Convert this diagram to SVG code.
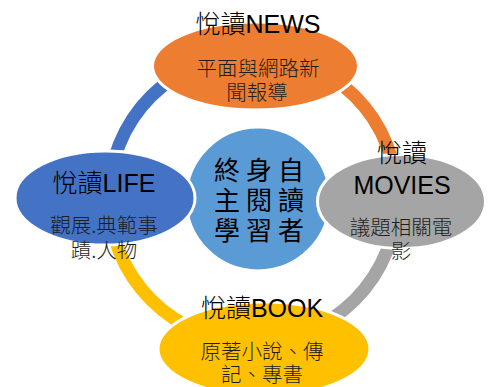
<svg xmlns="http://www.w3.org/2000/svg" width="490" height="387" viewBox="0 0 490 387">
<style>
.arc{fill:none;stroke-width:13}
.node{stroke:#fff;stroke-width:3}
.t{font-family:"Liberation Sans","Noto Sans CJK TC",sans-serif;font-size:25px;fill:#000;text-anchor:middle;font-weight:300}
.s{font-family:"Noto Sans CJK TC","Liberation Sans",sans-serif;font-size:20.5px;fill:#1e1e1e;text-anchor:middle;font-weight:300}
.c{font-family:"Noto Sans CJK TC",sans-serif;font-size:26px;fill:#000;text-anchor:middle;font-weight:400;letter-spacing:6px}
</style>
<rect width="490" height="387" fill="#fff"/>
<g id="connectors">
<path class="arc" stroke="#4472C4" d="M109,198 A144,144 0 0 1 253,54"/>
<path class="arc" stroke="#ED7D31" d="M253,54 A144,144 0 0 1 397,198"/>
<path class="arc" stroke="#A5A5A5" d="M397,198 A144,144 0 0 1 253,342"/>
<path class="arc" stroke="#FFC000" d="M253,342 A144,144 0 0 1 109,198"/>
</g>
<g id="center">
<circle class="node" cx="258" cy="199" r="72" fill="#5B9BD5"/>
<text class="c" x="262" y="180">終身自</text>
<text class="c" x="262" y="210">主閱讀</text>
<text class="c" x="262" y="240">學習者</text>
</g>
<g id="news">
<ellipse class="node" cx="255.5" cy="66" rx="103" ry="44" fill="#ED7D31"/>
<text class="t" x="258" y="33">悅讀NEWS</text>
<text class="s" x="258" y="76">平面與網路新</text>
<text class="s" x="257" y="100">聞報導</text>
</g>
<g id="movies">
<ellipse class="node" cx="401.5" cy="201.5" rx="84" ry="47" fill="#A5A5A5"/>
<text class="t" x="402" y="162">悅讀</text>
<text class="t" x="402" y="194">MOVIES</text>
<text class="s" x="401" y="235">議題相關電</text>
<text class="s" x="401" y="259">影</text>
</g>
<g id="life">
<ellipse class="node" cx="105" cy="198" rx="90" ry="47" fill="#4472C4"/>
<text class="t" x="104" y="192">悅讀LIFE</text>
<text class="s" x="104" y="233">觀展.典範事</text>
<text class="s" x="104" y="258">蹟.人物</text>
</g>
<g id="book">
<ellipse class="node" cx="264" cy="349" rx="106" ry="47" fill="#FFC000"/>
<text class="t" x="262" y="317">悅讀BOOK</text>
<text class="s" x="262" y="359">原著小說、傳</text>
<text class="s" x="262" y="382">記、專書</text>
</g>
</svg>
